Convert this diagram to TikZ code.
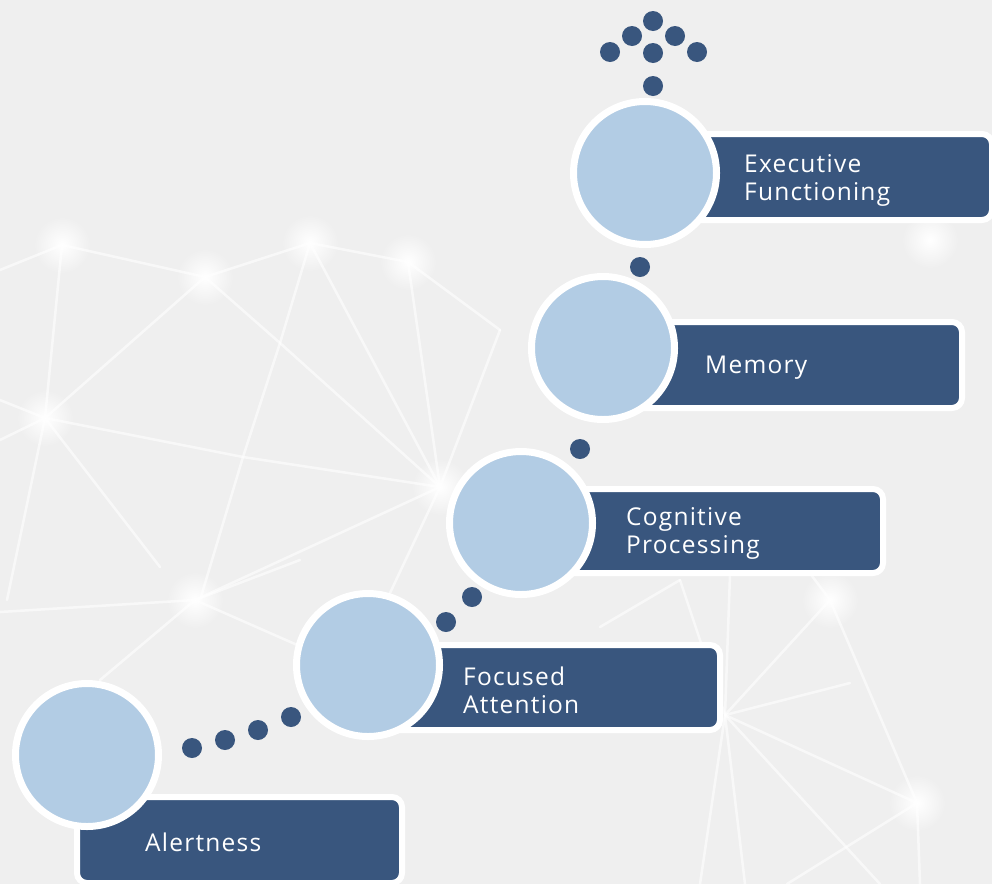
\documentclass[tikz,border=0pt]{standalone}
\usepackage{fontspec}
\setmainfont{Open Sans}[LetterSpace=5]
\usetikzlibrary{shadows}
\definecolor{bg}{HTML}{EFEFEF}
\definecolor{navy}{HTML}{39567E}
\definecolor{lblue}{HTML}{B2CCE4}
\tikzset{
  ring/.style={circle, draw=white, line width=7pt, fill=lblue, minimum size=143pt, inner sep=0pt,
    drop shadow={opacity=0.22, shadow xshift=1pt, shadow yshift=-2pt}},
  panel/.style={rectangle, draw=white, line width=6pt, fill=navy, rounded corners=10pt, inner sep=0pt,
    drop shadow={opacity=0.22, shadow xshift=1pt, shadow yshift=-2pt}},
  dot/.style={circle, fill=navy, minimum size=20pt, inner sep=0pt},
  txt/.style={anchor=west, align=left, text=white, inner sep=0pt, font=\fontsize{24.5}{28}\selectfont},
  net/.style={white, line width=2.5pt, opacity=0.6, line cap=round},
  glow/.style={inner color=white, outer color=bg},
}
\begin{document}
\begin{tikzpicture}[x=1pt, y=-1pt]
\fill[bg] (0,0) rectangle (992,884);
\useasboundingbox (0,0) rectangle (992,884);
% glows
\foreach \p in {(62,245),(310,243),(205,277),(45,418),(440,487),(830,600),(917,803),(930,240),(195,600),(408,262)}
  \shade[glow] \p circle (28pt);
% network lines
\coordinate (A) at (62,245); \coordinate (B) at (310,243); \coordinate (C) at (408,262);
\coordinate (D) at (205,277); \coordinate (E) at (45,418); \coordinate (F) at (280,343);
\coordinate (G) at (440,487); \coordinate (H) at (243,457); \coordinate (I) at (195,600);
\coordinate (P) at (725,715); \coordinate (Q) at (830,600); \coordinate (R) at (917,803);
\draw[net] (0,270) -- (A) -- (D) -- (B) -- (C) -- (500,330);
\draw[net] (A) -- (E) -- (7,600);
\draw[net] (D) -- (E);
\draw[net] (D) -- (F) -- (G);
\draw[net] (B) -- (F) -- (H) -- (200,600);
\draw[net] (B) -- (G);
\draw[net] (C) -- (G) -- (500,330);
\draw[net] (E) -- (H) -- (G);
\draw[net] (E) -- (160,567);
\draw[net] (G) -- (I);
\draw[net] (G) -- (390,593);
\draw[net] (E) -- (0,400);
\draw[net] (E) -- (0,440);
\draw[net] (I) -- (0,612);
\draw[net] (I) -- (320,655);
\draw[net] (I) -- (100,680);
\draw[net] (I) -- (300,560);
\draw[net] (P) -- (Q);
\draw[net] (P) -- (680,580);
\draw[net] (P) -- (730,575);
\draw[net] (P) -- (850,683);
\draw[net] (P) -- (R);
\draw[net] (P) -- (745,884);
\draw[net] (P) -- (700,884);
\draw[net] (P) -- (880,884);
\draw[net] (Q) -- (R);
\draw[net] (R) -- (787,884);
\draw[net] (R) -- (920,884);
\draw[net] (Q) -- (800,560);
\draw[net] (600,627) -- (680,580);
% panels
\node[panel, minimum width=325pt, minimum height=86pt] (r1) at (239.5,840) {};
\node[panel, minimum width=352pt, minimum height=85pt] (r2) at (544,687.5) {};
\node[panel, minimum width=361pt, minimum height=84pt] (r3) at (702.5,531) {};
\node[panel, minimum width=359pt, minimum height=86pt] (r4) at (782.5,365) {};
\node[panel, minimum width=347pt, minimum height=86pt] (r5) at (818.5,177) {};
% circles
\node[ring] (c1) at (87,755) {};
\node[ring] (c2) at (368,665) {};
\node[ring] (c3) at (521,523) {};
\node[ring] (c4) at (603,348) {};
\node[ring] (c5) at (645,173) {};
% texts
\node[txt] (t1) at (145,842) {Alertness};
\node[txt] (t2) at (463,690) {Focused\\Attention};
\node[txt] (t3) at (626,533) {Cognitive\\Processing};
\node[txt] (t4) at (705,368) {Memory};
\node[txt] (t5) at (744,180) {Executive\\Functioning};
% dots
\node[dot] (d1) at (192,748) {};
\node[dot] (d2) at (225,740) {};
\node[dot] (d3) at (258,730) {};
\node[dot] (d4) at (291,717) {};
\node[dot] (d5) at (446,622) {};
\node[dot] (d6) at (472,597) {};
\node[dot] (d7) at (580,449) {};
\node[dot] (d8) at (640,267) {};
% arrow head of dots
\node[dot] (a0) at (653,86) {};
\node[dot] (a1) at (653,53) {};
\node[dot] (a2) at (610,52) {};
\node[dot] (a3) at (697,52) {};
\node[dot] (a4) at (632,36) {};
\node[dot] (a5) at (675,36) {};
\node[dot] (a6) at (653,21) {};
\end{tikzpicture}
\end{document}
